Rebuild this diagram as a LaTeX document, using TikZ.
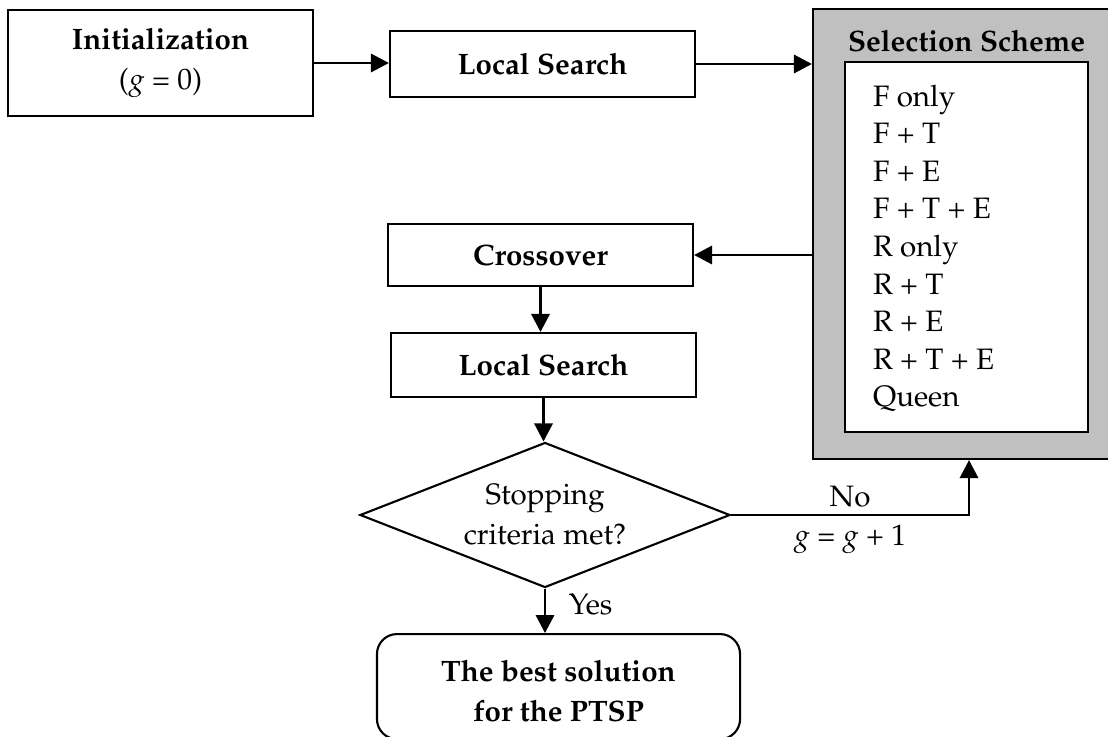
\documentclass[tikz,border=0pt]{standalone}
\usepackage[T1]{fontenc}
\usepackage{mathpazo}
\usepackage{tikz}
\usetikzlibrary{arrows.meta,shapes.geometric}
\definecolor{frame}{HTML}{C0C0C0}

\begin{document}
\begin{tikzpicture}[x=0.025cm,y=-0.025cm,font=\fontsize{21}{28.5}\selectfont,line width=1.5pt,
  >={Triangle[length=0.45cm,width=0.46cm]},
  stage/.style={draw,align=center,inner sep=0pt,minimum width=7.625cm},
  query/.style={draw,diamond,aspect=2.55,inner sep=0pt,align=center,minimum width=9.25cm,minimum height=3.625cm}]
\useasboundingbox (0,0) rectangle (1108,736);
\node[stage,minimum height=2.65cm] (init) at (160.5,63) {\textbf{Initialization}\\($g$ = 0)};
\node[stage,minimum height=1.65cm] (ls1) at (542.5,64) {\textbf{Local Search}};
\node[draw,fill=frame,minimum width=7.8cm,minimum height=11.25cm] (sel) at (969,234) {};
\node[draw,fill=white,minimum width=6.075cm,minimum height=9.25cm] (list) at (966.5,247) {};
\node[anchor=base] (seltitle) at (966.5,52) {\textbf{Selection Scheme}};
\foreach \s [count=\i from 0] in {F only,F + T,F + E,F + T + E,R only,R + T,R + E,R + T + E,Queen}
  \node[anchor=base west,inner sep=0pt] (item\i) at (872,106+37.6*\i) {\s};
\node[stage,minimum height=1.55cm] (cross) at (540.5,255) {\textbf{Crossover}};
\node[stage,minimum height=1.6cm] (ls2) at (543.5,365) {\textbf{Local Search}};
\node[query] (stop) at (545,515) {Stopping\\criteria met?};
\node[stage,rounded corners=0.5cm,minimum width=9.075cm,anchor=north,text height=2.175cm,text depth=0.45cm] (best) at (558.5,633) {\textbf{The best solution}\\\textbf{for the PTSP}};
\draw[->] (init.east) -- (init.east -| ls1.west);
\draw[->] (ls1.east) -- (ls1.east -| sel.west);
\draw[->] (sel.west |- cross.east) -- (cross.east);
\draw[->] (cross.south) -- (cross.south |- ls2.north);
\draw[->] (ls2.south) -- (ls2.south |- stop.north);
\draw[->] (stop.east) -| (sel.south) node[pos=0.25,above,yshift=0.05cm]{No} node[pos=0.25,below,yshift=-0.1cm]{$g$ = $g$ + 1};
\draw[->] (stop.south) -- (stop.south |- best.north) node[pos=0.35,right,xshift=0.45cm]{Yes};
\end{tikzpicture}
\end{document}
